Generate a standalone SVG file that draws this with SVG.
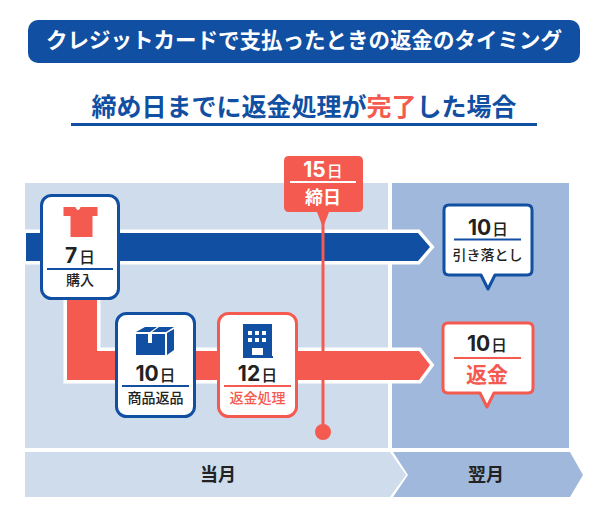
<svg xmlns="http://www.w3.org/2000/svg" width="600" height="520" viewBox="0 0 600 520">
<style>
text{font-family:"Noto Sans CJK JP","Noto Sans",sans-serif;text-anchor:middle;fill:#222}
.b{font-weight:700}
.d{font-size:21px;font-weight:700;font-family:"Inter","Noto Sans CJK JP",sans-serif}
.dj{font-size:16px;font-weight:500}
.s{font-size:14px;font-weight:500}
.card{fill:#fff;stroke-width:3}
.blue{stroke:#114fa3}
.red{stroke:#f55a50}
.fb{fill:#114fa3}
.fr{fill:#f55a50}
.bar{stroke:#fff;stroke-width:7;paint-order:stroke}
</style>
<rect x="25" y="183" width="363" height="265" fill="#cfdcec"/>
<rect x="392" y="183" width="177" height="265" fill="#a0b8db"/>
<polygon points="25,452 390,452 406,475 390,497 25,497" fill="#cfdcec"/>
<polygon points="393,452 570,452 583,475 570,497 393,497 408,475" fill="#a0b8db"/>
<text class="b" x="218" y="481" font-size="18">当月</text>
<text class="b" x="486" y="481" font-size="18">翌月</text>

<g id="title">
<rect x="28" y="20" width="552" height="43" rx="10" fill="#114fa3"/>
<text class="b" x="304" y="48" font-size="21.500" style="fill:#fff">クレジットカードで支払ったときの返金のタイミング</text>
</g>
<g id="subtitle">
<text class="b" x="304" y="116" font-size="25" style="fill:#114fa3">締め日までに返金処理が<tspan style="fill:#f55a50">完了</tspan>した場合</text>
<rect x="71" y="123" width="466" height="3" fill="#114fa3"/>
</g>

<g id="connectors">
<path class="bar" d="M26 233H418L430 247L418 261H26Z" fill="#114fa3"/>
<path class="bar" d="M67 298H97V351H419L430 365L419 380H67Z" fill="#f55a50"/>
<path d="M323 212V432" stroke="#f55a50" stroke-width="3" fill="none"/>
<circle cx="323" cy="432" r="8" fill="#f55a50"/>
</g>

<g id="card-purchase">
<rect class="card blue" x="41.5" y="195.500" width="77" height="103" rx="10"/>
<path class="fr" d="M63 207H75C76 211 79 211 80 207H97V216H92V237H70V216H63Z" transform="translate(0.500 0)"/>
<text class="d" x="80" y="263">7<tspan class="dj" dx="2">日</tspan></text>
<rect x="47" y="268" width="66" height="2" fill="#114fa3"/>
<text class="s" x="80" y="285">購入</text>
</g>

<g id="card-return">
<rect class="card blue" x="116.500" y="313.500" width="78" height="103" rx="10"/>
<path class="fb" d="M136 332L145 327H157L150 332ZM159 327H174L166 332H152ZM136 334H148V343H152V334H165V355H136ZM167 333L174 329V350L167 355Z"/>
<text class="d" x="155.500" y="381">10<tspan class="dj" dx="1">日</tspan></text>
<rect x="122" y="385" width="67" height="2" fill="#114fa3"/>
<text class="s" x="155.500" y="403">商品返品</text>
</g>

<g id="card-refund">
<rect class="card red" x="218.500" y="313.500" width="78" height="103" rx="10"/>
<path class="fb" d="M243 324H272V356H273V358H243V356ZM248 331V335H252V331ZM255 331V335H259V331ZM262 331V335H266V331ZM248 338V342H252V338ZM255 338V342H259V338ZM262 338V342H266V338ZM252 348V355H263V348Z" fill-rule="evenodd"/>
<text class="d" x="257.500" y="381">12<tspan class="dj" dx="1">日</tspan></text>
<rect x="224" y="385" width="67" height="2" fill="#f55a50"/>
<text class="s" x="257.500" y="403" style="fill:#f55a50">返金処理</text>
</g>

<g id="tag-closing">
<path class="fr" d="M289 156H358Q363 156 363 161V207Q363 212 358 212H329L324 225H322L317 212H289Q284 212 284 207V161Q284 156 289 156Z"/>
<text class="d" x="323" y="177" style="fill:#fff">15<tspan class="dj" dx="1" style="fill:#fff">日</tspan></text>
<rect x="290" y="181" width="66" height="2" fill="#fff"/>
<text class="b" x="323" y="204" font-size="18" style="fill:#fff">締日</text>
</g>

<g id="callout-debit">
<path class="card blue" d="M449 205H527Q532 205 532 210V270Q532 275 527 275H495L488 289L481 275H449Q444 275 444 270V210Q444 205 449 205Z" stroke-linejoin="round"/>
<text class="d" x="488" y="235">10<tspan class="dj" dx="1">日</tspan></text>
<rect x="454" y="238.500" width="67" height="2" fill="#114fa3"/>
<text class="s" x="487.500" y="260">引き落とし</text>
</g>

<g id="callout-refund">
<path class="card red" d="M448 323H528Q533 323 533 328V388Q533 393 528 393H494L487 407L480 393H448Q443 393 443 388V328Q443 323 448 323Z" stroke-linejoin="round"/>
<text class="d" x="487" y="351">10<tspan class="dj" dx="1">日</tspan></text>
<rect x="454" y="357" width="67" height="2" fill="#f55a50"/>
<text class="b" x="487" y="382" font-size="21" style="fill:#f55a50">返金</text>
</g>
</svg>
